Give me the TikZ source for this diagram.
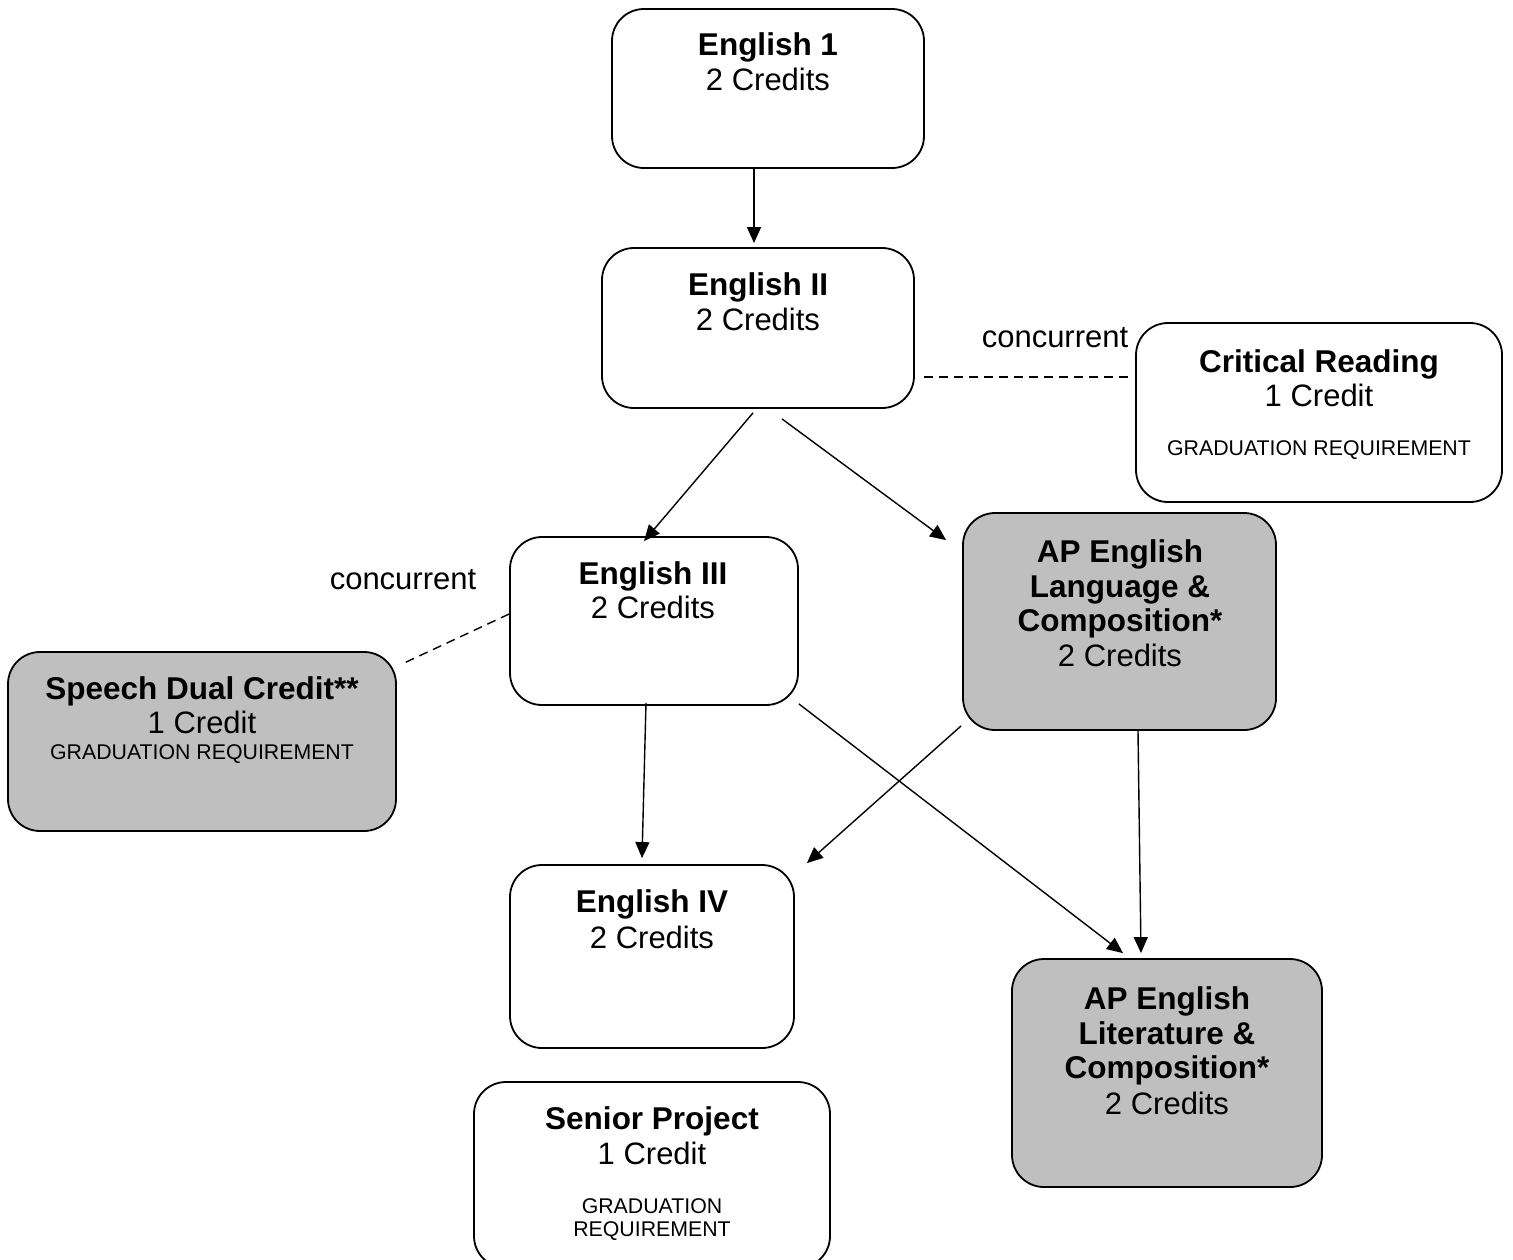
\documentclass[tikz,border=0pt]{standalone}
\usepackage{fontspec}
\setmainfont{Liberation Sans}
\usetikzlibrary{arrows.meta}
\definecolor{boxgray}{HTML}{BFBFBF}
\tikzset{
  crsbox/.style={draw=black, line width=1.8pt, rounded corners=32pt, inner sep=0pt, fill=white},
  graybox/.style={crsbox, fill=boxgray},
  ttl/.style={anchor=base, inner sep=0pt, font=\fontsize{31.5}{35}\selectfont\bfseries},
  cred/.style={anchor=base, inner sep=0pt, font=\fontsize{31}{35}\selectfont},
  grad/.style={anchor=base, inner sep=0pt, font=\fontsize{21.3}{24}\selectfont},
  conc/.style={anchor=base, inner sep=0pt, font=\fontsize{31}{35}\selectfont},
  arr/.style={line width=1.4pt, -{Triangle[length=16pt,width=14pt]}},
  dsh/.style={line width=1.4pt, dash pattern=on 9pt off 6pt}
}
\begin{document}
\begin{tikzpicture}[x=1pt,y=-1pt]
\useasboundingbox (0,0) rectangle (1513,1259);
% boxes
\node[crsbox, minimum width=312pt, minimum height=159pt] (e1) at (768,88.5) {};
\node[crsbox, minimum width=312pt, minimum height=160pt] (e2) at (758,328) {};
\node[crsbox, minimum width=366pt, minimum height=179pt] (cr) at (1319,412.5) {};
\node[graybox, minimum width=313pt, minimum height=217pt] (apl) at (1119.5,621.5) {};
\node[crsbox, minimum width=288pt, minimum height=168pt] (e3) at (654,621) {};
\node[graybox, minimum width=388pt, minimum height=179pt] (sp) at (202,741.5) {};
\node[crsbox, minimum width=284pt, minimum height=183pt] (e4) at (652,956.5) {};
\node[graybox, minimum width=310pt, minimum height=228pt] (alit) at (1167,1073) {};
\node[crsbox, minimum width=356pt, minimum height=186pt] (snr) at (652,1175) {};
% texts
\node[ttl] (t1a) at (768,55) {English 1};
\node[cred] (t1b) at (768,90) {2 Credits};
\node[ttl] (t2a) at (758,295) {English II};
\node[cred] (t2b) at (758,330) {2 Credits};
\node[conc] (c1) at (1055,347) {concurrent};
\node[ttl] (tca) at (1319,372) {Critical Reading};
\node[cred] (tcb) at (1319,406) {1 Credit};
\node[grad] (tcc) at (1319,455) {GRADUATION REQUIREMENT};
\node[ttl] (tla) at (1120,562) {AP English};
\node[ttl] (tlb) at (1120,597) {Language \&};
\node[ttl] (tlc) at (1120,631) {Composition*};
\node[cred] (tld) at (1120,666) {2 Credits};
\node[ttl] (t3a) at (653,584) {English III};
\node[cred] (t3b) at (653,618) {2 Credits};
\node[conc] (c2) at (403,589) {concurrent};
\node[ttl] (tsa) at (202,699) {Speech Dual Credit**};
\node[cred] (tsb) at (202,733) {1 Credit};
\node[grad] (tsc) at (202,759) {GRADUATION REQUIREMENT};
\node[ttl] (t4a) at (652,912) {English IV};
\node[cred] (t4b) at (652,948) {2 Credits};
\node[ttl] (tra) at (1167,1009) {AP English};
\node[ttl] (trb) at (1167,1044) {Literature \&};
\node[ttl] (trc) at (1167,1078) {Composition*};
\node[cred] (trd) at (1167,1114) {2 Credits};
\node[ttl] (tpa) at (652,1129) {Senior Project};
\node[cred] (tpb) at (652,1164) {1 Credit};
\node[grad] (tpc) at (652,1213) {GRADUATION};
\node[grad] (tpd) at (652,1236) {REQUIREMENT};
% connectors
\draw[arr] ([xshift=-14pt]e1.south) -- ([xshift=-4pt,yshift=4pt]e2.north);
\draw[arr] ([xshift=-5pt,yshift=-4pt]e2.south) -- ([xshift=-10pt,yshift=-5pt]e3.north);
\draw[arr] ([xshift=24pt,yshift=-10pt]e2.south) -- ([xshift=-16pt,yshift=-28pt]apl.north west);
\draw[arr] ([xshift=-8pt,yshift=3pt]e3.south) -- ([xshift=-10pt,yshift=6pt]e4.north);
\draw[arr] ([yshift=2pt]e3.south east) -- ([xshift=-44pt,yshift=5pt]alit.north);
\draw[arr] ([xshift=-1pt,yshift=5pt]apl.south west) -- ([xshift=12pt,yshift=1pt]e4.north east);
\draw[arr] ([xshift=18.5pt]apl.south) -- ([xshift=-26pt,yshift=5pt]alit.north);
\draw[dsh] ([xshift=9pt,yshift=-49pt]e2.east) -- ([xshift=-4pt,yshift=35.5pt]cr.west);
\draw[dsh] ([yshift=7pt]e3.west) -- ([xshift=7pt,yshift=-12pt]sp.north east);
\end{tikzpicture}
\end{document}
